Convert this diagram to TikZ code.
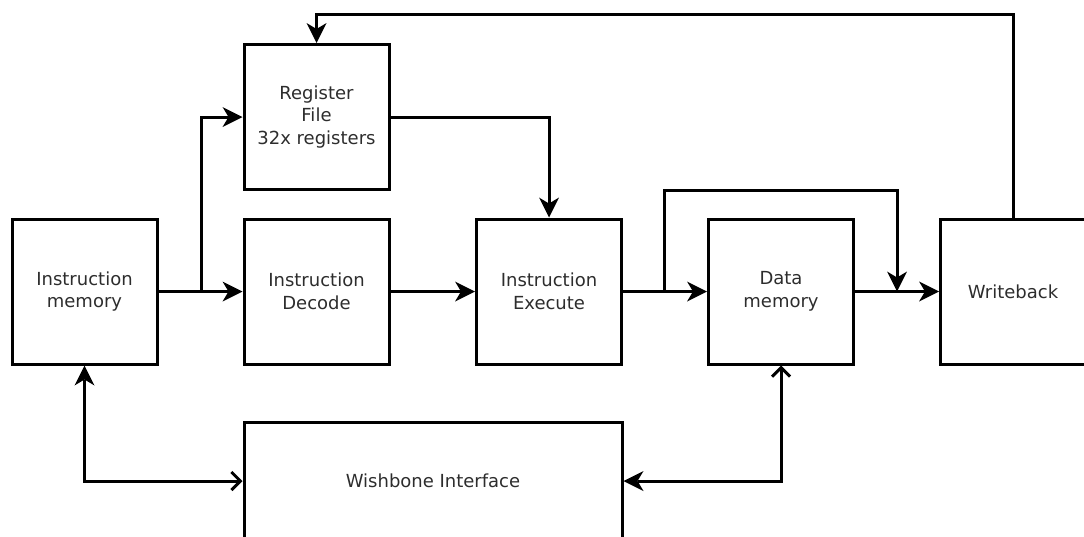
\documentclass[tikz,border=0pt]{standalone}
\usepackage{fontspec}
\setmainfont{DejaVu Sans}
\usetikzlibrary{arrows.meta}
\definecolor{textgray}{RGB}{45,45,45}
\begin{document}
\begin{tikzpicture}[x=1pt,y=-1pt,
  blk/.style={draw,line width=3pt,minimum width=145pt,minimum height=145pt,inner sep=0pt,
    align=center,text=textgray,font=\fontsize{18}{22.5}\selectfont},
  conn/.style={line width=3pt,line join=miter},
  fa/.style={conn,-{Stealth[length=20pt,width=20pt,inset=6pt,line width=0pt]}},
  dbl/.style={conn,{Stealth[length=20pt,width=20pt,inset=6pt,line width=0pt]}-{Straight Barb[length=9pt,width=18pt,line width=3pt]}}
]
\useasboundingbox (0,0) rectangle (1084,536);
\clip (0,0) rectangle (1084,536);
\node[blk] (im) at (84.5,291.5) {Instruction\\memory};
\node[blk] (rf) at (316.5,117) {Register\\File\\32x registers};
\node[blk] (id) at (316.5,291.5) {Instruction\\Decode};
\node[blk] (ie) at (549,291.5) {Instruction\\Execute};
\node[blk] (dm) at (781,291.5) {Data\\memory};
\node[blk] (wb) at (1013,291.5) {Writeback};
\node[blk,minimum width=378pt,minimum height=118pt] (wi) at (433,481) {Wishbone Interface};
\coordinate (j1) at (201,291.5);
\coordinate (j2) at (664,291.5);
\coordinate (j3) at (897,291.5);
\coordinate (t1) at (664,190);
\coordinate (t2) at (1013,14);
\draw[fa] (im.east) -- (id.west);
\draw[fa] (j1) |- (rf.west);
\draw[fa] (rf.east) -| (ie.north);
\draw[fa] (id.east) -- (ie.west);
\draw[fa] (ie.east) -- (dm.west);
\draw[fa] (j2) -- (t1) -| (j3);
\draw[fa] (dm.east) -- (wb.west);
\draw[fa] (wb.north) -- (t2) -| (rf.north);
\draw[dbl] (im.south) |- (wi.west);
\draw[dbl] (wi.east) -| (dm.south);
\end{tikzpicture}
\end{document}
